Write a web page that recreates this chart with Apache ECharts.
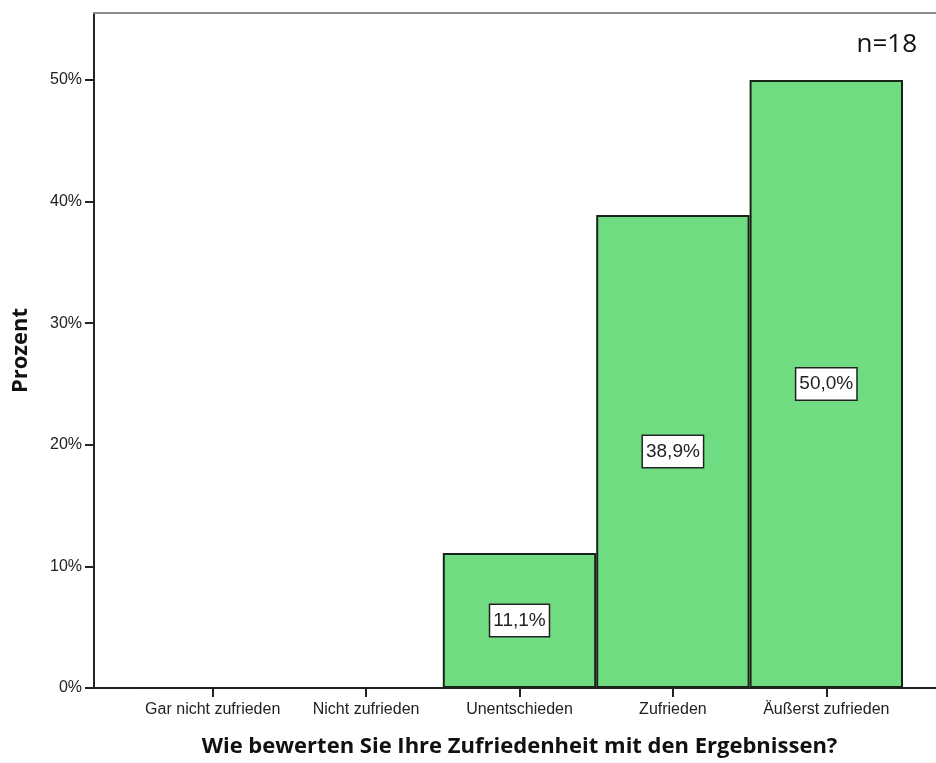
<!DOCTYPE html>
<html><head><meta charset="utf-8">
<script src="https://cdn.jsdelivr.net/npm/echarts@6/dist/echarts.min.js"></script>
<style>html,body{margin:0;padding:0;background:#fff}#c{width:936px;height:763px}</style>
</head><body><div id="c"></div>
<script>
const categories = ['Gar nicht zufrieden','Nicht zufrieden','Unentschieden','Zufrieden','Äußerst zufrieden'];
const percents = [0, 0, 11.1, 38.9, 50.0];
const yTicks = [0, 10, 20, 30, 40, 50];
const sampleNote = 'n=18';
const xTitle = 'Wie bewerten Sie Ihre Zufriedenheit mit den Ergebnissen?';
const yTitle = 'Prozent';
const yMax = 55.5;

const chart = echarts.init(document.getElementById('c'), null, {renderer:'canvas'});
const fmt = v => v.toFixed(1).replace('.', ',') + '%';
chart.setOption({
  animation: false,
  backgroundColor: '#fff',
  title: {
    text: sampleNote, right: 14, top: 27,
    textStyle: {fontFamily: 'Open Sans', fontSize: 26, fontWeight: 'normal', color: '#111'}
  },
  grid: [
    {left: 94, right: 0, top: 13, bottom: 75},
    {left: 136, right: 33, top: 13, bottom: 75}
  ],
  xAxis: [
    {gridIndex: 0, type: 'value', min: 0, max: 1, position: 'bottom',
     axisLine: {show: true, lineStyle: {color: '#222', width: 2}},
     axisTick: {show: false}, axisLabel: {show: false}, splitLine: {show: false}},
    {gridIndex: 0, type: 'value', min: 0, max: 1, position: 'top',
     axisLine: {show: true, lineStyle: {color: '#8a8a8a', width: 2}},
     axisTick: {show: false}, axisLabel: {show: false}, splitLine: {show: false}},
    {gridIndex: 1, type: 'category', data: categories, position: 'bottom',
     axisLine: {show: false},
     axisTick: {show: true, alignWithLabel: true, length: 9, lineStyle: {color: '#222', width: 2}},
     axisLabel: {fontFamily: 'Liberation Sans', fontSize: 16, color: '#222', margin: 14, interval: 0},
     name: xTitle, nameLocation: 'middle', nameGap: 48,
     nameTextStyle: {fontFamily: 'Open Sans', fontWeight: 'bold', fontSize: 22, color: '#111'}}
  ],
  yAxis: [
    {gridIndex: 0, type: 'value', min: 0, max: yMax, interval: 10,
     axisLine: {show: true, lineStyle: {color: '#222', width: 2}},
     axisTick: {show: true, length: 9, customValues: yTicks, lineStyle: {color: '#222', width: 2}},
     axisLabel: {fontFamily: 'Liberation Sans', fontSize: 16, color: '#222', margin: 12,
       customValues: yTicks, formatter: v => v + '%'},
     splitLine: {show: false},
     name: yTitle, nameLocation: 'middle', nameGap: 62, nameRotate: 90,
     nameTextStyle: {fontFamily: 'Open Sans', fontWeight: 'bold', fontSize: 22, color: '#111'}},
    {gridIndex: 1, type: 'value', min: 0, max: yMax, show: false}
  ],
  series: [{
    type: 'bar', xAxisIndex: 2, yAxisIndex: 1,
    data: percents.map(v => ({value: v, label: {show: v > 0}})),
    barWidth: '100%', barCategoryGap: '0%',
    itemStyle: {color: '#70dc82', borderColor: '#1a231a', borderWidth: 2},
    label: {
      show: true, position: 'inside',
      formatter: p => fmt(p.value),
      fontFamily: 'Liberation Sans', fontSize: 19, color: '#222',
      backgroundColor: '#fff', borderColor: '#222', borderWidth: 1.5,
      padding: [7, 3, 5, 3]
    }
  }]
});
</script></body></html>
